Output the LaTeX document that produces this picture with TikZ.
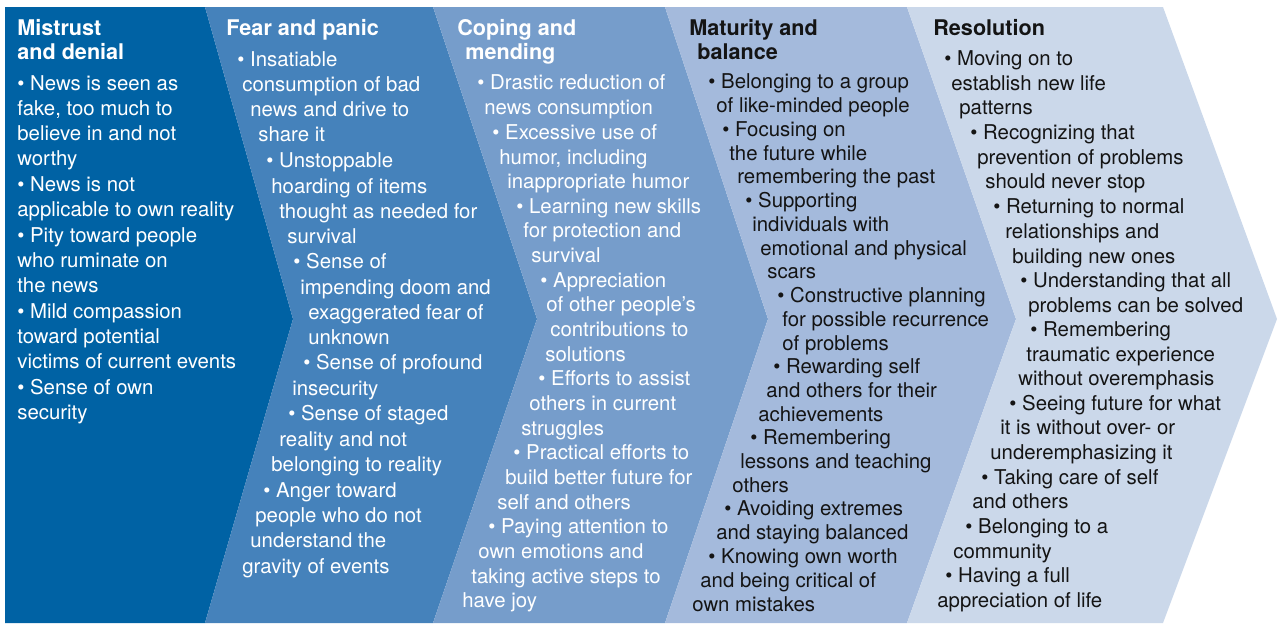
\documentclass[tikz,border=0pt]{standalone}
\usepackage{fontspec}
\setmainfont{TeX Gyre Heros}
\usepackage{tikz}

\definecolor{stageA}{RGB}{0,98,164}
\definecolor{stageB}{RGB}{69,130,187}
\definecolor{stageC}{RGB}{118,157,203}
\definecolor{stageD}{RGB}{164,186,220}
\definecolor{stageE}{RGB}{203,216,234}
\definecolor{ink}{RGB}{20,20,20}

\tikzset{
	line/.style={anchor=base west, inner sep=0pt, yshift=-4.4pt,
		font=\fontsize{11.6pt}{13pt}\selectfont},
	head/.style={anchor=base west, inner sep=0pt, yshift=-4.6pt,
		font=\fontsize{12.3pt}{13pt}\selectfont\bfseries},
	light/.style={text=white},
	dark/.style={text=ink}
}

\begin{document}
\begin{tikzpicture}[x=0.02cm, y=-0.02cm]
		%%%%% START %%%%%
		
		\useasboundingbox (0, 0) rectangle (1280, 623);
		
		% the five stages as chevrons
		\draw[draw=none, fill=stageA] (5, 7) -- (205, 7) -- (293, 319) -- (205, 623) -- (5, 623) -- cycle;
		\draw[draw=none, fill=stageB] (205, 7) -- (433, 7) -- (537, 319) -- (433, 623) -- (205, 623) -- (293, 319) -- cycle;
		\draw[draw=none, fill=stageC] (433, 7) -- (665, 7) -- (768, 319) -- (665, 623) -- (433, 623) -- (537, 319) -- cycle;
		\draw[draw=none, fill=stageD] (665, 7) -- (907, 7) -- (1016, 319) -- (907, 623) -- (665, 623) -- (768, 319) -- cycle;
		\draw[draw=none, fill=stageE] (907, 7) -- (1163, 7) -- (1277, 319) -- (1163, 623) -- (907, 623) -- (1016, 319) -- cycle;
		
		% stage 1
		\node[head, light] (mis-h1) at (17, 27) {Mistrust};
		\node[head, light] (mis-h2) at (17, 51) {and denial};
		\foreach \x/\y/\t [count=\i] in {
			17/83/{• News is seen as}, 17/108/{fake, too much to}, 17/133/{believe in and not},
			17/158/{worthy}, 17/184/{• News is not}, 17/209/{applicable to own reality},
			17/235/{• Pity toward people}, 17/260/{who ruminate on}, 17/285/{the news},
			17/311/{• Mild compassion}, 17/336/{toward potential}, 17/361/{victims of current events},
			17/387/{• Sense of own}, 17/412/{security}}
			\node[line, light] (mis-\i) at (\x, \y) {\t};
		
		% stage 2
		\node[head, light] (fear-h) at (226, 27) {Fear and panic};
		\foreach \x/\y/\t [count=\i] in {
			237/59/{• Insatiable}, 242/84/{consumption of bad}, 250/109/{news and drive to},
			258/134/{share it}, 266/160/{• Unstoppable}, 271/186/{hoarding of items},
			279/211/{thought as needed for}, 287/236/{survival}, 293/261/{• Sense of},
			300/287/{impending doom and}, 308/312/{exaggerated fear of}, 308/337/{unknown},
			303/362/{• Sense of profound}, 292/388/{insecurity}, 288/413/{• Sense of staged},
			279/439/{reality and not}, 271/464/{belonging to reality}, 263/490/{• Anger toward},
			255/515/{people who do not}, 250/540/{understand the}, 242/566/{gravity of events}}
			\node[line, light] (fear-\i) at (\x, \y) {\t};
		
		% stage 3
		\node[head, light] (cope-h1) at (457, 27) {Coping and};
		\node[head, light] (cope-h2) at (465, 51) {mending};
		\foreach \x/\y/\t [count=\i] in {
			477/82/{• Drastic reduction of}, 484/107/{news consumption}, 492/132/{• Excessive use of},
			499/157/{humor, including}, 507/181/{inappropriate humor}, 516/206/{• Learning new skills},
			523/230/{for protection and}, 531/255/{survival}, 540/280/{• Appreciation},
			546/304/{of other people’s}, 550/329/{contributions to}, 545/354/{solutions},
			538/378/{• Efforts to assist}, 529/403/{others in current}, 521/428/{struggles},
			513/452/{• Practical efforts to}, 505/477/{build better future for}, 497/502/{self and others},
			488/526/{• Paying attention to}, 478/551/{own emotions and}, 471/576/{taking active steps to},
			462/600/{have joy}}
			\node[line, light] (cope-\i) at (\x, \y) {\t};
		
		% stage 4
		\node[head, dark] (mat-h1) at (689, 27) {Maturity and};
		\node[head, dark] (mat-h2) at (697, 51) {balance};
		\foreach \x/\y/\t [count=\i] in {
			708/81/{• Belonging to a group}, 716/105/{of like-minded people}, 722/129/{• Focusing on},
			729/153/{the future while}, 737/176/{remembering the past}, 745/200/{• Supporting},
			752/224/{individuals with}, 760/248/{emotional and physical}, 767/271/{scars},
			777/295/{• Constructive planning}, 782/319/{for possible recurrence}, 782/343/{of problems},
			773/366/{• Rewarding self}, 766/390/{and others for their}, 758/414/{achievements},
			750/437/{• Remembering}, 740/461/{lessons and teaching}, 732/485/{others},
			724/508/{• Avoiding extremes}, 716/532/{and staying balanced}, 708/556/{• Knowing own worth},
			700/580/{and being critical of}, 692/604/{own mistakes}}
			\node[line, dark] (mat-\i) at (\x, \y) {\t};
		
		% stage 5
		\node[head, dark] (res-h) at (933, 27) {Resolution};
		\foreach \x/\y/\t [count=\i] in {
			944/58/{• Moving on to}, 951/83/{establish new life}, 959/107/{patterns},
			970/132/{• Recognizing that}, 977/157/{prevention of problems}, 985/181/{should never stop},
			993/206/{• Returning to normal}, 1005/231/{relationships and}, 1012/256/{building new ones},
			1020/280/{• Understanding that all}, 1028/305/{problems can be solved}, 1030/329/{• Remembering},
			1026/354/{traumatic experience}, 1018/378/{without overemphasis}, 1009/403/{• Seeing future for what},
			1000/427/{it is without over- or}, 990/452/{underemphasizing it}, 981/477/{• Taking care of self},
			972/501/{and others}, 965/526/{• Belonging to a}, 953/551/{community},
			945/575/{• Having a full}, 937/600/{appreciation of life}}
			\node[line, dark] (res-\i) at (\x, \y) {\t};
		
		%%%%% END %%%%%
	\end{tikzpicture}
\end{document}
